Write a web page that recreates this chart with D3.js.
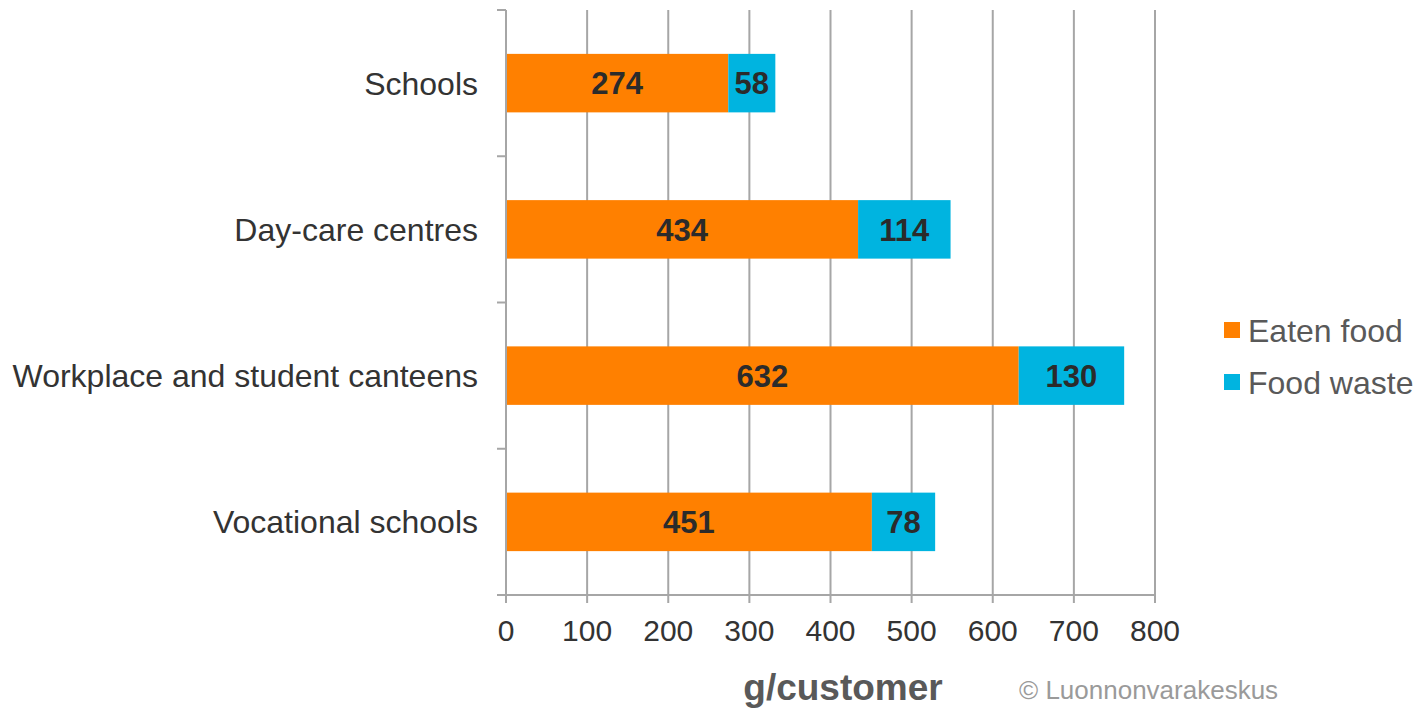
<!DOCTYPE html>
<html><head><meta charset="utf-8">
<script src="https://cdn.jsdelivr.net/npm/d3@7"></script>
<style>body{margin:0;background:#fff;} svg{display:block;font-family:"Liberation Sans",Arial,sans-serif;}</style>
</head><body>
<svg id="c" width="1416" height="708"></svg>
<script>
const categories = ["Schools","Day-care centres","Workplace and student canteens","Vocational schools"];
const eaten = [274,434,632,451];
const waste = [58,114,130,78];
const seriesNames = ["Eaten food","Food waste"];
const colors = ["#FF8000","#00B4E0"];
const xTicks = [0,100,200,300,400,500,600,700,800];

const svg = d3.select("#c");
const x = d3.scaleLinear().domain([0,800]).range([506,1155]);
const y = d3.scaleBand().domain(categories).range([10,595]).paddingInner(0.6).paddingOuter(0.3);
const gridColor = "#a6a6a6";

// gridlines
svg.append("g").selectAll("line").data(xTicks.slice(1)).join("line")
  .attr("x1",d=>x(d)).attr("x2",d=>x(d)).attr("y1",10).attr("y2",603)
  .attr("stroke",gridColor).attr("stroke-width",2);

// bars
const data = categories.map((c,i)=>({c, vals:[eaten[i],waste[i]]}));
data.forEach(d=>{
  let acc=0;
  d.vals.forEach((v,j)=>{
    svg.append("rect").attr("x",x(acc)).attr("width",x(acc+v)-x(acc))
      .attr("y",y(d.c)).attr("height",y.bandwidth()).attr("fill",colors[j]);
    svg.append("text").attr("x",(x(acc)+x(acc+v))/2).attr("y",y(d.c)+y.bandwidth()/2)
      .attr("dy","0.36em").attr("text-anchor","middle").attr("font-size",31).attr("font-weight","bold")
      .attr("fill","#2b2b2b").text(v);
    acc+=v;
  });
});

// y axis
svg.append("line").attr("x1",506).attr("x2",506).attr("y1",10).attr("y2",603).attr("stroke",gridColor).attr("stroke-width",2);
const bounds = [10,156.25,302.5,448.75,595];
svg.append("g").selectAll("line").data(bounds).join("line")
  .attr("x1",497).attr("x2",506).attr("y1",d=>d).attr("y2",d=>d).attr("stroke",gridColor).attr("stroke-width",2);
svg.append("g").selectAll("text").data(categories).join("text")
  .attr("x",478).attr("y",d=>y(d)+y.bandwidth()/2).attr("dy","0.36em").attr("text-anchor","end")
  .attr("font-size",32).attr("fill","#333").text(d=>d);

// x axis
svg.append("line").attr("x1",497).attr("x2",1155).attr("y1",595).attr("y2",595).attr("stroke",gridColor).attr("stroke-width",2);
svg.append("g").selectAll("text").data(xTicks).join("text")
  .attr("x",d=>x(d)).attr("y",641).attr("text-anchor","middle").attr("font-size",30).attr("fill","#333").text(d=>d);

svg.append("text").attr("x",843).attr("y",700).attr("text-anchor","middle").attr("font-size",37)
  .attr("font-weight","bold").attr("fill","#595959").text("g/customer");
svg.append("text").attr("x",1019).attr("y",699).attr("font-size",26).attr("fill","#9a9a9a").text("© Luonnonvarakeskus");

// legend
const lg = svg.append("g");
seriesNames.forEach((n,i)=>{
  const yy = 330 + i*52;
  lg.append("rect").attr("x",1224).attr("y",yy-8).attr("width",16).attr("height",16).attr("fill",colors[i]);
  lg.append("text").attr("x",1248).attr("y",yy).attr("dy","0.36em").attr("font-size",32).attr("fill","#595959").text(n);
});
</script>
</body></html>
